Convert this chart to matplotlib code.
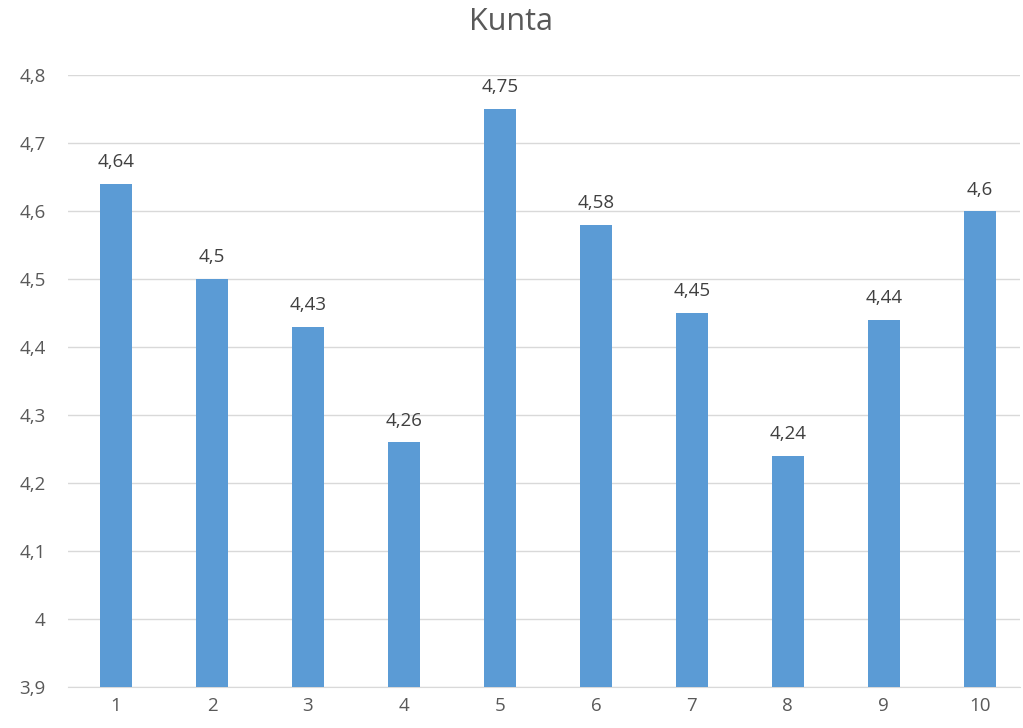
import matplotlib.pyplot as plt
from matplotlib.ticker import FuncFormatter

categories = ['1', '2', '3', '4', '5', '6', '7', '8', '9', '10']
values = [4.64, 4.5, 4.43, 4.26, 4.75, 4.58, 4.45, 4.24, 4.44, 4.6]
y_ticks = [3.9, 4.0, 4.1, 4.2, 4.3, 4.4, 4.5, 4.6, 4.7, 4.8]

text_color = '#595959'
label_color = '#404040'
bar_color = '#5B9BD5'

plt.rcParams['font.family'] = ['Open Sans', 'DejaVu Sans']

fig = plt.figure(figsize=(10.23, 7.28), dpi=100)
ax = fig.add_axes([68 / 1023, 41 / 728, 952 / 1023, 612 / 728])

x = list(range(1, len(categories) + 1))
bars = ax.bar(x, values, width=0.33, color=bar_color, zorder=3)

def comma(v):
    s = f'{v:.2f}'.rstrip('0').rstrip('.')
    return s.replace('.', ',')

for xi, v in zip(x, values):
    ax.annotate(comma(v), (xi, v), xytext=(0, 9), textcoords='offset points',
                ha='center', va='bottom', fontsize=13.5, color=label_color)

ax.set_ylim(3.9, 4.8)
ax.set_xlim(0.5, 10.42)
ax.set_yticks(y_ticks)
ax.yaxis.set_major_formatter(FuncFormatter(lambda v, p: comma(round(v, 2))))
ax.set_xticks(x)
ax.set_xticklabels(categories)
ax.tick_params(axis='both', length=0, labelsize=13.5, colors=text_color)
ax.tick_params(axis='y', pad=16)
ax.tick_params(axis='x', pad=7)
ax.grid(axis='y', color='#D9D9D9', linewidth=1, zorder=0)
for side in ['top', 'right', 'left']:
    ax.spines[side].set_visible(False)
ax.spines['bottom'].set_color('#D9D9D9')

fig.suptitle('Kunta', fontsize=22, color=text_color, y=0.99)

fig.savefig('out.png', dpi=100)
